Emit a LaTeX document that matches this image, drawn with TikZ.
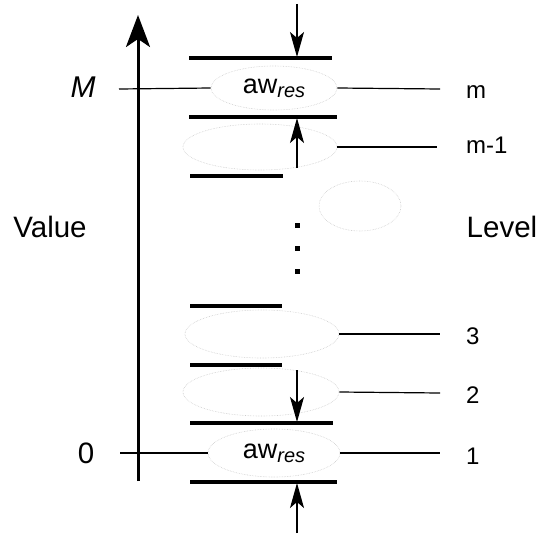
\documentclass[tikz,border=0pt]{standalone}
\usepackage{fontspec}
\setmainfont{Liberation Sans}
\usetikzlibrary{shapes.geometric,arrows.meta}
\begin{document}
\begin{tikzpicture}[x=1pt,y=-1pt,
  bar/.style={line width=3.5pt},
  cell/.style={ellipse,draw=black!20,densely dotted,line width=0.6pt,inner sep=0pt,
    font=\fontsize{27}{30}\selectfont},
  thinline/.style={line width=1.2pt},
  big/.style={font=\fontsize{29.5}{32}\selectfont,anchor=base,inner sep=0pt},
  lab/.style={font=\fontsize{24}{26}\selectfont,anchor=base west,inner sep=0pt},
  dimarrow/.style={line width=1.2pt,-{Stealth[length=25pt,width=14pt,inset=6pt]}},
  dot/.style={fill=black,inner sep=0pt,minimum size=5pt,rectangle},
]
\useasboundingbox (0,0) rectangle (543,535);
\newcommand{\awres}{a{w}\raisebox{-4pt}{\fontsize{20}{22}\selectfont\itshape res}}
% axis
\coordinate (axb) at (138,481);
\coordinate (axt) at (138,15);
\draw[line width=3pt,-{Stealth[length=32pt,width=24pt,inset=8pt]}] (axb) -- (axt);
% ellipses
\node[cell,minimum width=126pt,minimum height=44pt] (em) at (274,88) {\awres};
\node[cell,minimum width=154pt,minimum height=46pt] (em1) at (260,147) {};
\node[cell,minimum width=82pt,minimum height=50pt] (ef) at (360,206) {};
\node[cell,minimum width=154pt,minimum height=48pt] (e3) at (262,334) {};
\node[cell,minimum width=156pt,minimum height=48pt] (e2) at (261,392) {};
\node[cell,minimum width=132pt,minimum height=48pt] (e1) at (274,453) {\awres};
% left ticks and labels
\coordinate (tM) at (119,89);
\coordinate (t0) at (120,453);
\draw[thinline] (tM) -- (em.west);
\draw[thinline] (t0) -- (e1.west);
\node[big,font=\fontsize{30}{32}\selectfont\itshape] (M) at (83,97) {M};
\node[big] (zero) at (86,463) {0};
\node[big] (value) at (50,237) {Value};
\node[big] (level) at (502,237) {Level};
% right lines and labels
\node[lab] (lm) at (466,98) {m};
\node[lab] (lm1) at (466,153) {m-1};
\node[lab] (l3) at (466,344) {3};
\node[lab] (l2) at (466,403) {2};
\node[lab] (l1) at (466,464) {1};
\coordinate (rm) at (440,89);
\coordinate (rm1) at (437,147);
\coordinate (r3) at (440,334);
\coordinate (r2) at (440,393);
\coordinate (r1) at (440,453);
\draw[thinline] (em.east) -- (rm);
\draw[thinline] (em1.east) -- (rm1);
\draw[thinline] (e3.east) -- (r3);
\draw[thinline] (e2.east) -- (r2);
\draw[thinline] (e1.east) -- (r1);
% bars
\draw[bar] (189,58) -- (332,58);
\draw[bar] (189,117) -- (337,117);
\draw[bar] (190,176) -- (283,176);
\draw[bar] (190,306) -- (282,306);
\draw[bar] (190,365) -- (282,365);
\draw[bar] (190,423) -- (333,423);
\draw[bar] (190,482) -- (337,482);
% dimension arrows
\coordinate (a1s) at (297,4);   \coordinate (a1e) at (297,57);
\coordinate (a2s) at (297,168); \coordinate (a2e) at (297,118);
\coordinate (a3s) at (297,370); \coordinate (a3e) at (297,422);
\coordinate (a4s) at (297,533); \coordinate (a4e) at (297,483);
\draw[dimarrow] (a1s) -- (a1e);
\draw[dimarrow] (a2s) -- (a2e);
\draw[dimarrow] (a3s) -- (a3e);
\draw[dimarrow] (a4s) -- (a4e);
% dots
\node[dot] (d1) at (297.5,225.5) {};
\node[dot] (d2) at (297.5,248.5) {};
\node[dot] (d3) at (297.5,271.5) {};
\end{tikzpicture}
\end{document}
